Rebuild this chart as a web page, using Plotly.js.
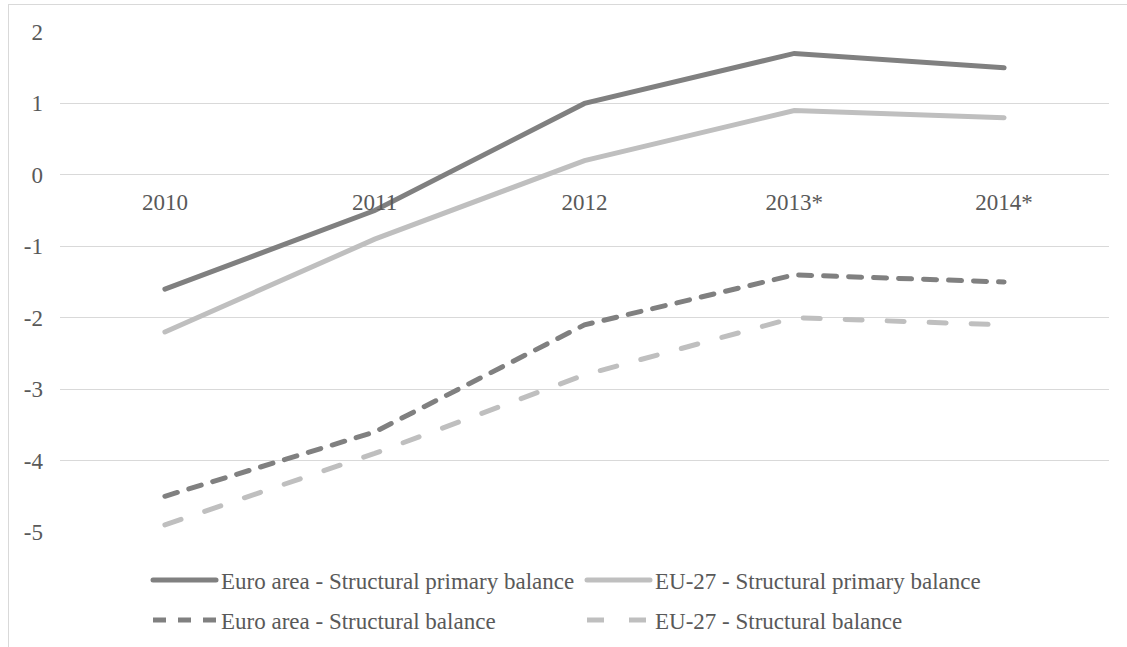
<!DOCTYPE html>
<html>
<head>
<meta charset="utf-8">
<script src="https://cdn.plot.ly/plotly-3.0.1.min.js"></script>
<style>
html, body { margin: 0; padding: 0; background: #ffffff; overflow: hidden; }
#chart { position: absolute; left: 8px; top: 4px; width: 1118px; height: 680px;
  border-left: 1px solid #d9d9d9; border-top: 1px solid #d9d9d9; }
.scatterlayer .js-line, .legend .js-line { stroke-linecap: round !important; }
</style>
</head>
<body>
<div id="chart"></div>
<script>
const years = ["2010", "2011", "2012", "2013*", "2014*"];
const euroPrimary = [-1.6, -0.5, 1.0, 1.7, 1.5];
const eu27Primary = [-2.2, -0.9, 0.2, 0.9, 0.8];
const euroStructural = [-4.5, -3.6, -2.1, -1.4, -1.5];
const eu27Structural = [-4.9, -3.9, -2.8, -2.0, -2.1];
const seriesNames = [
  "Euro area - Structural primary balance",
  "EU-27 - Structural primary balance",
  "Euro area - Structural balance",
  "EU-27 - Structural balance"
];
const yTickValues = [-5, -4, -3, -2, -1, 0, 1, 2];
const yTickLabels = ["-5", "-4", "-3", "-2", "-1", "0", "1", "2"];
const yMin = -5, yMax = 2;

const dark = "#808080", light = "#bfbfbf";
const font = { family: "Liberation Serif", size: 23, color: "#595959" };

const traces = [
  { x: years, y: euroPrimary, name: seriesNames[0], mode: "lines",
    line: { color: dark, width: 5 }, legend: "legend" },
  { x: years, y: eu27Primary, name: seriesNames[1], mode: "lines",
    line: { color: light, width: 5 }, legend: "legend" },
  { x: years, y: euroStructural, name: seriesNames[2], mode: "lines",
    line: { color: dark, width: 5, dash: "13px,12px" }, legend: "legend2" },
  { x: years, y: eu27Structural, name: seriesNames[3], mode: "lines",
    line: { color: light, width: 5, dash: "17px,25px" }, legend: "legend2" }
];

const legendBase = {
  orientation: "h", xanchor: "left", yanchor: "top",
  font: font, itemwidth: 63, entrywidth: 356, entrywidthmode: "pixels",
  bgcolor: "rgba(0,0,0,0)", traceorder: "normal"
};

const layout = {
  width: 1118, height: 680,
  margin: { l: 51, r: 18, t: 27, b: 153 },
  paper_bgcolor: "#ffffff", plot_bgcolor: "#ffffff",
  font: font,
  showlegend: true,
  xaxis: {
    type: "category", range: [-0.5, years.length - 0.5],
    anchor: "free", position: (0 - yMin) / (yMax - yMin),
    showgrid: false, showline: false, zeroline: false, ticks: "",
    ticklabelstandoff: 11, tickfont: font, fixedrange: true
  },
  yaxis: {
    range: [yMin, yMax], tickvals: yTickValues, ticktext: yTickLabels,
    showgrid: true, gridcolor: "#d9d9d9", gridwidth: 1,
    zeroline: false, showline: false, ticks: "",
    ticklabelstandoff: 16, tickfont: font, fixedrange: true
  },
  legend: Object.assign({}, legendBase, { x: 0.0839, y: -0.053 }),
  legend2: Object.assign({}, legendBase, { x: 0.0839, y: -0.133 })
};

Plotly.newPlot("chart", traces, layout, { displayModeBar: false, staticPlot: true });
</script>
</body>
</html>
